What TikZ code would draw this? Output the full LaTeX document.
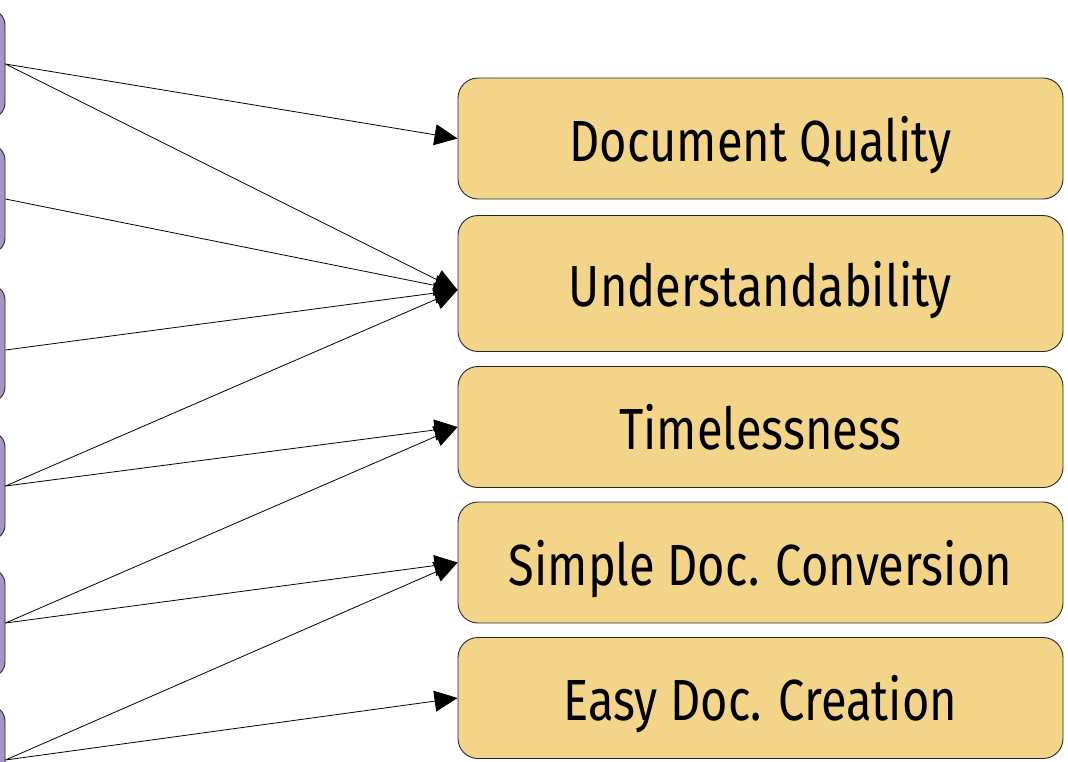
\documentclass[tikz,border=0pt]{standalone}
\usepackage{fontspec}
\setmainfont{Fira Sans}[FakeStretch=0.81]
\usetikzlibrary{arrows.meta}
\definecolor{qyellow}{HTML}{F3D58A}
\definecolor{qpurple}{HTML}{A893C5}
\begin{document}
\begin{tikzpicture}[x=1pt,y=-1pt,
  qual/.style={draw=black!85, line width=0.9pt, fill=qyellow, rounded corners=20pt,
    minimum width=605pt, minimum height=121pt, inner sep=0pt,
    text height=45pt, text depth=0pt, font=\fontsize{58}{60}\selectfont},
  feat/.style={draw=black!85, line width=0.9pt, fill=qpurple, rounded corners=15pt,
    minimum width=120pt, minimum height=108pt, inner sep=0pt},
  link/.style={line width=0.8pt, -{Triangle[length=23pt,width=21pt]}}]
\useasboundingbox (0,0) rectangle (1068,761);
% purple feature boxes (cut off at the left edge)
\node[feat] (P1) at (-55,64) {};
\node[feat] (P2) at (-55,199) {};
\node[feat, minimum height=117pt] (P3) at (-55,343.5) {};
\node[feat] (P4) at (-55,486) {};
\node[feat] (P5) at (-55,623) {};
\node[feat] (P6) at (-55,760) {};
% yellow quality boxes
\node[qual] (A) at (760.5,138.5) {Document Quality};
\node[qual, minimum height=136pt] (B) at (760.5,283.5) {Understandability};
\node[qual] (C) at (760.5,427) {Timelessness};
\node[qual] (D) at (760.5,562.5) {Simple Doc. Conversion};
\node[qual] (E) at (760.5,698) {Easy Doc. Creation};
% connectors
\draw[link] (P1.east) -- (A.west);
\draw[link] (P1.east) -- ([yshift=-6.5pt]B.west);
\draw[link] (P2.east) -- ([yshift=-6.5pt]B.west);
\draw[link] ([yshift=-6.5pt]P3.east) -- ([yshift=-6.5pt]B.west);
\draw[link] (P4.east) -- ([yshift=-6.5pt]B.west);
\draw[link] (P4.east) -- (C.west);
\draw[link] (P5.east) -- (C.west);
\draw[link] (P5.east) -- (D.west);
\draw[link] (P6.east) -- (D.west);
\draw[link] (P6.east) -- (E.west);
\end{tikzpicture}
\end{document}
